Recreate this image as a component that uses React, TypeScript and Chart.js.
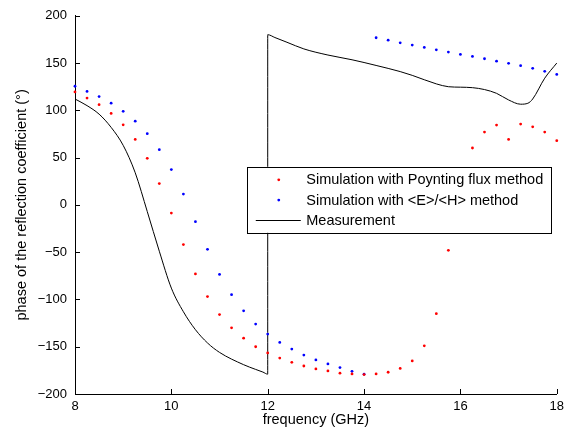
import React, { useEffect, useRef } from "react";
import { Chart, registerables } from "chart.js";

Chart.register(...registerables);

const simFreq = [
  8, 8.25, 8.5, 8.75, 9, 9.25, 9.5, 9.75, 10, 10.25, 10.5, 10.75, 11, 11.25, 11.5, 11.75,
  12, 12.25, 12.5, 12.75, 13, 13.25, 13.5, 13.75, 14, 14.25, 14.5, 14.75, 15, 15.25, 15.5, 15.75,
  16, 16.25, 16.5, 16.75, 17, 17.25, 17.5, 17.75, 18,
];

const poyntingPhase = [
  119.5, 113, 106, 96.7, 84.7, 69.3, 49.3, 22.6, -8.6, -42, -73, -97, -116, -130, -141, -150,
  -156.6, -162, -166.5, -170.4, -173.5, -175.6, -178, -178.8, -179.5, -178.8, -177, -173, -165, -149, -115, -48,
  8, 60.2, 77, 84.4, 69.3, 85.5, 82.6, 77, 67.9,
];

const ehPhase = [
  125.5, 120, 114.6, 107.6, 99, 88.6, 75.3, 58.4, 37.4, 11.4, -17.7, -47, -73.5, -95, -112, -126,
  -136.6, -145.4, -152.5, -158.8, -164, -168.2, -172, -176, -179, 176.8, 174.2, 171.4, 169, 166.5, 164, 161.6,
  159.2, 157, 154.6, 152, 149.7, 147.2, 144.4, 141.3, 138,
];

const measFreq = [
  8, 8.25, 8.5, 8.75, 9, 9.25, 9.5, 9.75, 10, 10.25, 10.5, 10.75, 11, 11.5, 11.75, 11.9, 12,
  12.0001, 12.15, 12.4, 12.75, 13.25, 13.75, 14.25, 14.75, 15, 15.5, 15.75, 16, 16.25, 16.5, 16.75,
  17, 17.25, 17.4, 17.5, 17.75, 18,
];

const measPhase = [
  112, 105, 96, 82, 63, 34, -7, -49, -88, -113, -132, -146, -156, -169, -174, -176.8, -179,
  180, 177, 172, 165, 158.5, 153.5, 147.5, 141, 137, 128, 125, 124.5, 124, 122, 118,
  111, 106.5, 107.5, 112, 134, 150,
];

const xTicks = [8, 10, 12, 14, 16, 18];
const yTicks = [-200, -150, -100, -50, 0, 50, 100, 150, 200];

const seriesLabels = [
  "Simulation with Poynting flux method",
  "Simulation with <E>/<H> method",
  "Measurement",
];

const FONT = "'Liberation Sans', Arial, Helvetica, sans-serif";

const inwardTicks = {
  id: "inwardTicks",
  afterDatasetsDraw(chart: any) {
    const { ctx, chartArea, scales } = chart;
    ctx.save();
    ctx.strokeStyle = "#000";
    ctx.lineWidth = 1;
    ctx.beginPath();
    for (const v of xTicks) {
      const x = Math.round(scales.x.getPixelForValue(v)) + 0.5;
      ctx.moveTo(x, chartArea.bottom);
      ctx.lineTo(x, chartArea.bottom - 5);
    }
    for (const v of yTicks) {
      const y = Math.round(scales.y.getPixelForValue(v)) + 0.5;
      ctx.moveTo(chartArea.left, y);
      ctx.lineTo(chartArea.left + 5, y);
    }
    ctx.stroke();
    ctx.restore();
  },
};

const boxLegend = {
  id: "boxLegend",
  afterDatasetsDraw(chart: any) {
    const { ctx, chartArea } = chart;
    const right = chartArea.right - 6;
    const top = chartArea.top + 151;
    const w = 304;
    const h = 66;
    const left = right - w;
    ctx.save();
    ctx.fillStyle = "#fff";
    ctx.fillRect(left, top, w, h);
    ctx.strokeStyle = "#000";
    ctx.lineWidth = 1;
    ctx.strokeRect(Math.round(left) + 0.5, Math.round(top) + 0.5, w, h);
    ctx.font = `14.5px ${FONT}`;
    ctx.textBaseline = "middle";
    ctx.fillStyle = "#000";
    chart.data.datasets.forEach((ds: any, i: number) => {
      const y = top + 13 + i * 20.3;
      if (ds.showLine) {
        ctx.strokeStyle = ds.borderColor;
        ctx.lineWidth = 1;
        ctx.beginPath();
        ctx.moveTo(left + 9, Math.round(y) + 0.5);
        ctx.lineTo(left + 54, Math.round(y) + 0.5);
        ctx.stroke();
      } else {
        ctx.fillStyle = ds.backgroundColor;
        ctx.beginPath();
        ctx.arc(left + 32, y, 1.4, 0, Math.PI * 2);
        ctx.fill();
      }
      ctx.fillStyle = "#000";
      ctx.fillText(ds.label, left + 59.5, y + 0.5);
    });
    ctx.restore();
  },
};

export default function App() {
  const ref = useRef<HTMLCanvasElement | null>(null);

  useEffect(() => {
    if (!ref.current) return;
    const toXY = (xs: number[], ys: (number | null)[]) => xs.map((x, i) => ({ x, y: ys[i] }));
    const chart = new Chart(ref.current, {
      type: "scatter",
      data: {
        datasets: [
          {
            label: seriesLabels[0],
            data: toXY(simFreq, poyntingPhase),
            showLine: false,
            pointRadius: 1.4,
            pointBorderWidth: 0,
            backgroundColor: "#ff0000",
            borderColor: "#ff0000",
            clip: 5,
          },
          {
            label: seriesLabels[1],
            data: toXY(simFreq, ehPhase),
            showLine: false,
            pointRadius: 1.4,
            pointBorderWidth: 0,
            backgroundColor: "#0000ff",
            borderColor: "#0000ff",
            clip: 5,
          },
          {
            label: seriesLabels[2],
            data: toXY(measFreq, measPhase),
            showLine: true,
            pointRadius: 0,
            borderWidth: 1,
            borderColor: "#000000",
            backgroundColor: "#000000",
            cubicInterpolationMode: "monotone",
            clip: 5,
          },
        ],
      } as any,
      options: {
        animation: false,
        responsive: false,
        maintainAspectRatio: false,
        layout: { padding: { top: 14, right: 11, left: 0, bottom: 0 } },
        plugins: { legend: { display: false }, tooltip: { enabled: false } },
        scales: {
          x: {
            type: "linear",
            min: 8,
            max: 18,
            afterBuildTicks: (s: any) => {
              s.ticks = xTicks.map((v) => ({ value: v }));
            },
            afterFit: (s: any) => {
              s.height = 40;
            },
            grid: { display: false, drawTicks: false },
            border: { display: true, color: "#000", width: 1 },
            ticks: {
              color: "#000",
              font: { family: FONT, size: 13 },
              padding: 5,
              maxRotation: 0,
              autoSkip: false,
            },
            title: {
              display: true,
              text: "frequency (GHz)",
              color: "#000",
              font: { family: FONT, size: 14.5 },
              padding: { top: 0, bottom: 5 },
            },
          },
          y: {
            type: "linear",
            min: -200,
            max: 200,
            afterBuildTicks: (s: any) => {
              s.ticks = yTicks.map((v) => ({ value: v }));
            },
            afterFit: (s: any) => {
              s.width = 75;
            },
            grid: { display: false, drawTicks: false },
            border: { display: true, color: "#000", width: 1 },
            ticks: {
              color: "#000",
              font: { family: FONT, size: 13 },
              padding: 8,
              autoSkip: false,
              callback: (v: any) => String(v).replace("-", "\u2212"),
            },
            title: {
              display: true,
              text: "phase of the reflection coefficient (°)",
              color: "#000",
              font: { family: FONT, size: 14.5 },
              padding: { top: 13, bottom: 0 },
            },
          },
        },
      } as any,
      plugins: [inwardTicks, boxLegend],
    });
    return () => chart.destroy();
  }, []);

  return (
    <div style={{ position: "fixed", left: 0, top: 0, width: 569, height: 434, background: "#fff" }}>
      <canvas ref={ref} width={569} height={434} style={{ width: 569, height: 434, display: "block" }} />
    </div>
  );
}
